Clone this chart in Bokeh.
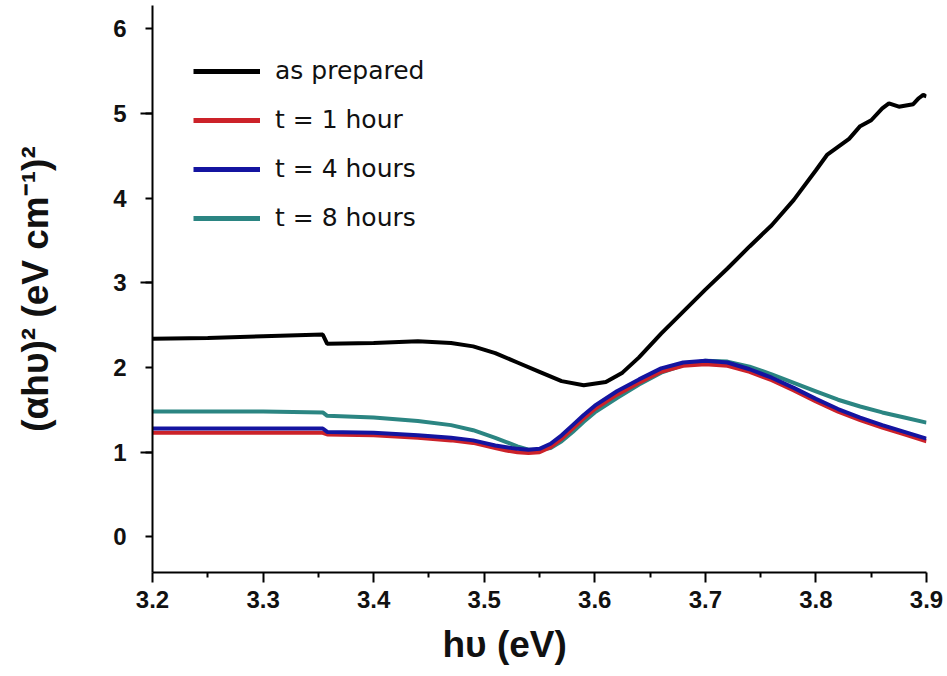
from bokeh.plotting import figure
from bokeh.models import Range1d, FixedTicker, Legend, LegendItem, Title
from bokeh.embed import file_html
from bokeh.resources import INLINE

# ---- data ----
x_prep = [3.2, 3.25, 3.3, 3.354, 3.358, 3.4, 3.44, 3.47, 3.49, 3.51, 3.53, 3.55,
          3.57, 3.59, 3.61, 3.625, 3.64, 3.66, 3.68, 3.70, 3.72, 3.74, 3.76, 3.78,
          3.80, 3.81, 3.83, 3.84, 3.85, 3.86, 3.866, 3.875, 3.888, 3.893, 3.897, 3.9]
y_prep = [2.34, 2.35, 2.37, 2.39, 2.28, 2.29, 2.31, 2.29, 2.25, 2.17, 2.06, 1.95,
          1.84, 1.79, 1.83, 1.94, 2.12, 2.40, 2.66, 2.92, 3.17, 3.43, 3.68, 3.98,
          4.33, 4.51, 4.70, 4.85, 4.92, 5.06, 5.12, 5.08, 5.11, 5.18, 5.22, 5.20]

x_t = [3.2, 3.25, 3.3, 3.354, 3.358, 3.4, 3.44, 3.47, 3.49, 3.51, 3.52, 3.53, 3.54,
       3.55, 3.56, 3.57, 3.58, 3.59, 3.6, 3.62, 3.64, 3.66, 3.68, 3.70, 3.72, 3.74,
       3.76, 3.78, 3.80, 3.82, 3.84, 3.86, 3.88, 3.9]
y_1h = [1.23, 1.23, 1.23, 1.23, 1.21, 1.20, 1.17, 1.14, 1.11, 1.05, 1.02, 1.00, 0.99,
        1.00, 1.06, 1.16, 1.28, 1.40, 1.51, 1.68, 1.82, 1.95, 2.02, 2.04, 2.02, 1.95,
        1.85, 1.73, 1.60, 1.48, 1.38, 1.29, 1.21, 1.13]
y_4h = [1.28, 1.28, 1.28, 1.28, 1.24, 1.23, 1.20, 1.17, 1.14, 1.08, 1.06, 1.04, 1.03,
        1.04, 1.10, 1.20, 1.32, 1.44, 1.55, 1.72, 1.86, 1.99, 2.06, 2.08, 2.06, 1.98,
        1.88, 1.76, 1.63, 1.51, 1.41, 1.32, 1.24, 1.16]
y_8h = [1.48, 1.48, 1.48, 1.47, 1.43, 1.41, 1.37, 1.32, 1.26, 1.17, 1.12, 1.07, 1.03,
        1.03, 1.05, 1.13, 1.24, 1.36, 1.47, 1.64, 1.80, 1.94, 2.03, 2.08, 2.07, 2.01,
        1.92, 1.82, 1.72, 1.62, 1.54, 1.47, 1.41, 1.35]

labels = ["as prepared", "t = 1 hour", "t = 4 hours", "t = 8 hours"]
x_ticks = [3.2, 3.3, 3.4, 3.5, 3.6, 3.7, 3.8, 3.9]
x_minor = [3.25, 3.35, 3.45, 3.55, 3.65, 3.75, 3.85]
y_ticks = [0, 1, 2, 3, 4, 5, 6]
x_title = "h\u03c5 (eV)"
y_title = "(\u03b1h\u03c5)\u00b2 (eV cm\u207b\u00b9)\u00b2"

C_BLACK = "#000000"
C_RED = "#cc2229"
C_BLUE = "#1414a0"
C_TEAL = "#2b8582"

p = figure(width=947, height=676, output_backend="svg", toolbar_location=None,
           x_range=Range1d(3.2, 3.9), y_range=Range1d(-0.42, 6.275),
           min_border_left=152, min_border_right=21, min_border_top=5,
           min_border_bottom=104)
p.outline_line_color = None
p.xgrid.visible = False
p.ygrid.visible = False
p.background_fill_color = "white"
p.border_fill_color = "white"

r_prep = p.line(x_prep, y_prep, line_color=C_BLACK, line_width=4)
r_8 = p.line(x_t, y_8h, line_color=C_TEAL, line_width=4)
r_1 = p.line(x_t, y_1h, line_color=C_RED, line_width=4)
r_4 = p.line(x_t, y_4h, line_color=C_BLUE, line_width=4)

# axes styling
xa = p.xaxis[0]
xa.ticker = FixedTicker(ticks=x_ticks, minor_ticks=x_minor)
xa.axis_line_width = 2
xa.major_tick_line_width = 2
xa.minor_tick_line_width = 2
xa.major_tick_in = 0
xa.major_tick_out = 10
xa.minor_tick_in = 0
xa.minor_tick_out = 5
xa.major_label_text_font = "Liberation Sans"
xa.major_label_text_font_style = "bold"
xa.major_label_text_font_size = "24px"
xa.major_label_text_color = "#111111"
xa.major_label_standoff = 8

ya = p.yaxis[0]
ya.ticker = FixedTicker(ticks=y_ticks, minor_ticks=[1, 3, 5])
ya.axis_line_width = 2
ya.major_tick_line_width = 2
ya.minor_tick_line_width = 2
ya.major_tick_in = 0
ya.major_tick_out = 7
ya.minor_tick_in = 0
ya.minor_tick_out = 12
ya.major_label_text_font = "Liberation Sans"
ya.major_label_text_font_style = "bold"
ya.major_label_text_font_size = "24px"
ya.major_label_text_color = "#111111"
ya.major_label_standoff = 14
ya.axis_label = y_title
ya.axis_label_text_font = "Liberation Sans"
ya.axis_label_text_font_style = "bold"
ya.axis_label_text_font_size = "37px"
ya.axis_label_text_color = "#111111"
ya.axis_label_standoff = 54

# x axis title, placed slightly left of centre as in the reference
p.add_layout(Title(text=x_title, align="left", offset=290, standoff=22,
                   text_font="Liberation Sans", text_font_style="bold",
                   text_font_size="37px", text_line_height=1.0,
                   text_color="#111111"), "below")

# legend with proxy lines so legend lines can be thicker
lg_prep = p.line([3.3], [3.0], line_color=C_BLACK, line_width=5)
lg_1 = p.line([3.3], [3.0], line_color=C_RED, line_width=5)
lg_4 = p.line([3.3], [3.0], line_color=C_BLUE, line_width=5)
lg_8 = p.line([3.3], [3.0], line_color=C_TEAL, line_width=5)

legend = Legend(items=[LegendItem(label=labels[0], renderers=[lg_prep]),
                       LegendItem(label=labels[1], renderers=[lg_1]),
                       LegendItem(label=labels[2], renderers=[lg_4]),
                       LegendItem(label=labels[3], renderers=[lg_8])],
                location=(41, 340), orientation="vertical",
                background_fill_alpha=0, border_line_color=None,
                padding=0, margin=0, spacing=20,
                glyph_width=67, glyph_height=20, label_height=20,
                label_standoff=15,
                label_text_font="DejaVu Sans", label_text_font_size="25px",
                label_text_color="#111111")
p.add_layout(legend)

open("out.html", "w").write(file_html(p, INLINE))
